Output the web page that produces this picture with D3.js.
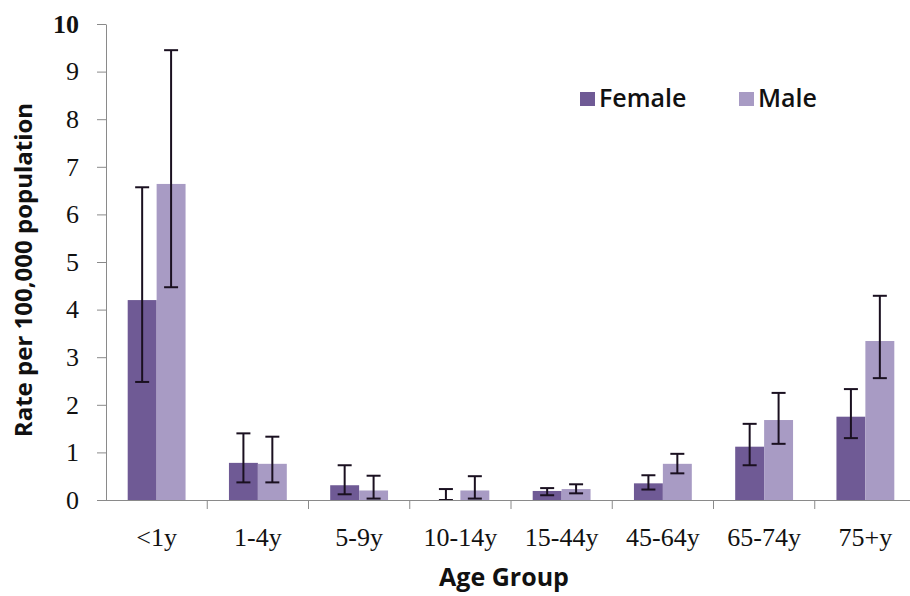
<!DOCTYPE html>
<html>
<head>
<meta charset="utf-8">
<script src="https://cdn.jsdelivr.net/npm/d3@7"></script>
<style>
  body { margin: 0; background: #fff; }
  svg { display: block; }
</style>
</head>
<body>
<svg id="chart" width="910" height="596"></svg>
<script>
'use strict'

// values
const ageGroups = ['<1y', '1-4y', '5-9y', '10-14y', '15-44y', '45-64y', '65-74y', '75+y']
const seriesNames = ['Female', 'Male']
const femaleRate = [4.2, 0.78, 0.31, 0, 0.19, 0.35, 1.12, 1.75]
const femaleLow = [2.48, 0.37, 0.12, 0, 0.10, 0.22, 0.73, 1.30]
const femaleHigh = [6.57, 1.40, 0.73, 0.23, 0.25, 0.52, 1.60, 2.33]
const maleRate = [6.64, 0.76, 0.20, 0.20, 0.23, 0.76, 1.68, 3.34]
const maleLow = [4.47, 0.37, 0.03, 0.03, 0.14, 0.56, 1.18, 2.56]
const maleHigh = [9.45, 1.33, 0.51, 0.50, 0.33, 0.97, 2.25, 4.29]
const yTicks = [0, 1, 2, 3, 4, 5, 6, 7, 8, 9, 10]

const colors = { Female: '#6f5a95', Male: '#a89bc4' }

let data = ageGroups.map((g, i) => ({
  group: g,
  values: [
    { key: 'Female', v: femaleRate[i], lo: femaleLow[i], hi: femaleHigh[i] },
    { key: 'Male', v: maleRate[i], lo: maleLow[i], hi: maleHigh[i] }
  ]
}))

let svg = d3.select('#chart')

let xScale = d3.scaleBand()
  .domain(ageGroups)
  .range([106, 916])
  .paddingInner(0)
  .paddingOuter(0)

let inner = d3.scaleBand()
  .domain(seriesNames)
  .range([0, xScale.bandwidth()])
  .paddingOuter(0.75)
  .paddingInner(0)

let yScale = d3.scaleLinear()
  .domain([0, 10])
  .range([500, 24])

// y axis
let yAxis = svg.append('g')
  .attr('transform', 'translate(106,0)')
  .call(d3.axisLeft(yScale).tickValues(yTicks).tickSize(9).tickPadding(18).tickSizeOuter(0))
yAxis.select('.domain').attr('stroke', '#8a8a8a')
yAxis.selectAll('.tick line').attr('stroke', '#8a8a8a')
yAxis.selectAll('.tick text')
  .attr('font-family', 'Liberation Serif, serif')
  .attr('font-size', 26)
  .attr('fill', '#111')
  .style('font-weight', d => d === 10 ? 'bold' : 'normal')

// bars
let groups = svg.append('g').selectAll('g.grp')
  .data(data)
  .enter().append('g')
  .attr('class', 'grp')
  .attr('transform', d => 'translate(' + xScale(d.group) + ',0)')

groups.selectAll('rect')
  .data(d => d.values)
  .enter().append('rect')
  .attr('x', d => inner(d.key))
  .attr('width', inner.bandwidth())
  .attr('y', d => yScale(d.v))
  .attr('height', d => yScale(0) - yScale(d.v))
  .attr('fill', d => colors[d.key])

// x axis
let xAxis = svg.append('g')
  .attr('transform', 'translate(0,500)')
  .call(d3.axisBottom(xScale).tickSize(0).tickPadding(28).tickSizeOuter(0))
xAxis.select('.domain').attr('stroke', '#8a8a8a').attr('d', 'M97,0.5H916')
xAxis.selectAll('.tick text')
  .attr('font-family', 'Liberation Serif, serif')
  .attr('font-size', 26)
  .attr('fill', '#111')
xAxis.selectAll('.boundary')
  .data(ageGroups.slice(1))
  .enter().append('line')
  .attr('class', 'boundary')
  .attr('x1', d => xScale(d)).attr('x2', d => xScale(d))
  .attr('y1', 0).attr('y2', 9)
  .attr('stroke', '#8a8a8a')

// error bars
let errs = groups.selectAll('g.err')
  .data(d => d.values)
  .enter().append('g')
  .attr('class', 'err')
  .attr('stroke', '#1a1020')
  .attr('stroke-width', 2)
  .attr('transform', d => 'translate(' + (inner(d.key) + inner.bandwidth() / 2) + ',0)')
errs.append('line')
  .attr('y1', d => yScale(d.lo)).attr('y2', d => yScale(d.hi))
errs.append('line')
  .attr('x1', -7).attr('x2', 7)
  .attr('y1', d => yScale(d.hi)).attr('y2', d => yScale(d.hi))
errs.append('line')
  .attr('x1', -7).attr('x2', 7)
  .attr('y1', d => yScale(d.lo)).attr('y2', d => yScale(d.lo))

// axis titles
svg.append('text')
  .attr('transform', 'translate(32,270) rotate(-90)')
  .attr('text-anchor', 'middle')
  .attr('font-family', 'Open Sans, sans-serif')
  .attr('font-weight', 'bold')
  .attr('font-size', 24)
  .attr('fill', '#111')
  .text('Rate per 100,000 population')

svg.append('text')
  .attr('x', 504)
  .attr('y', 586)
  .attr('text-anchor', 'middle')
  .attr('font-family', 'Open Sans, sans-serif')
  .attr('font-weight', 'bold')
  .attr('font-size', 25)
  .attr('fill', '#111')
  .text('Age Group')

// legend
let legend = svg.append('g').selectAll('g')
  .data(seriesNames)
  .enter().append('g')
  .attr('transform', (d, i) => 'translate(' + (580 + i * 159) + ',92)')
legend.append('rect')
  .attr('width', 15).attr('height', 14)
  .attr('fill', d => colors[d])
legend.append('text')
  .attr('x', 19).attr('y', 15)
  .attr('font-family', 'Open Sans, sans-serif')
  .attr('font-weight', 600)
  .attr('font-size', 25)
  .attr('fill', '#111')
  .text(d => d)
</script>
</body>
</html>
